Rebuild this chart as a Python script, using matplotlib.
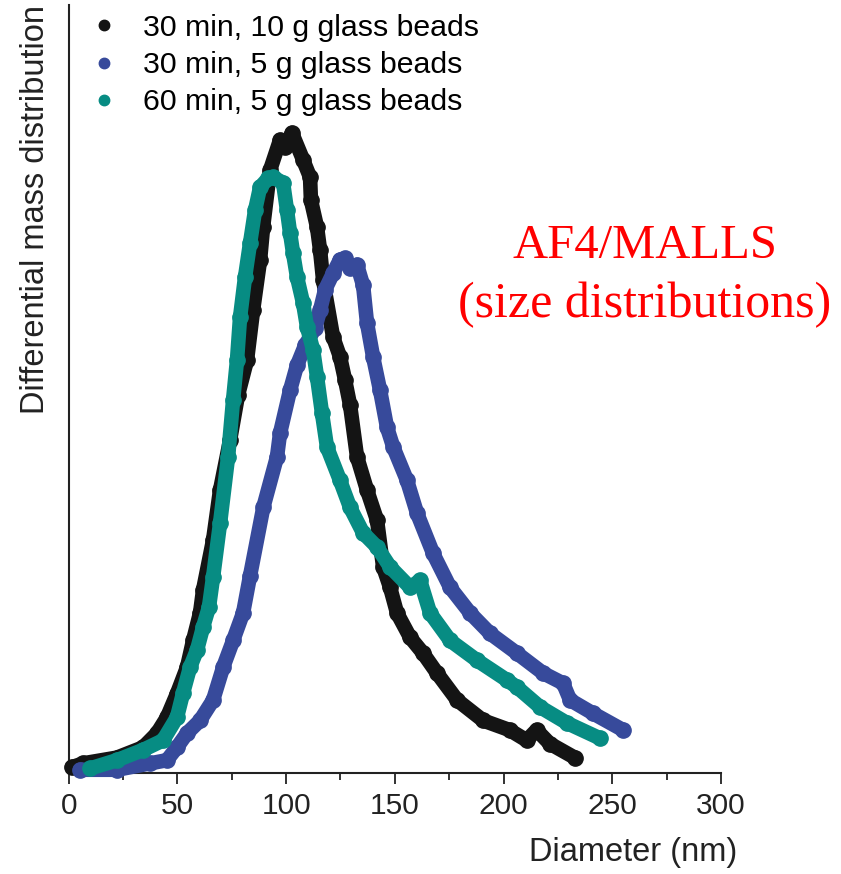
import matplotlib.pyplot as plt
from matplotlib.ticker import MultipleLocator, NullLocator

# Диаметр (нм) и дифференциальное массовое распределение (отн. ед.)
black_x = [1.5, 6.6, 22.2, 34.2, 40.6, 45.2, 49.8, 54.4, 57.2, 60.4, 61.8, 66.4,
           69.6, 74.2, 77.9, 82.0, 84.8, 88.0, 89.4, 92.6, 97.2, 99.5, 102.7,
           107.8, 111.0, 111.4, 114.2, 115.6, 117.0, 121.6, 124.8, 127.1, 129.4,
           132.6, 137.2, 141.8, 144.6, 147.8, 151.0, 157.0, 163.0, 169.4, 178.6,
           190.6, 202.8, 210.6, 215.2, 221.2, 232.7]
black_y = [0.009, 0.015, 0.024, 0.040, 0.062, 0.087, 0.124, 0.165, 0.207, 0.250,
           0.286, 0.364, 0.442, 0.520, 0.591, 0.645, 0.723, 0.801, 0.853, 0.942,
           0.989, 0.978, 1.000, 0.958, 0.931, 0.895, 0.853, 0.817, 0.770, 0.681,
           0.650, 0.614, 0.575, 0.494, 0.442, 0.395, 0.322, 0.290, 0.250, 0.212,
           0.187, 0.156, 0.114, 0.082, 0.067, 0.051, 0.067, 0.046, 0.024]

blue_x = [5.2, 22.2, 37.4, 45.2, 49.8, 54.4, 60.4, 66.4, 71.0, 75.6, 80.2, 83.4,
          89.5, 95.8, 97.2, 101.8, 105.0, 108.7, 113.3, 115.6, 117.9, 121.6,
          124.8, 127.1, 129.4, 132.6, 135.4, 137.2, 140.0, 143.2, 146.4, 149.3,
          155.6, 160.2, 167.6, 175.4, 184.6, 193.8, 206.2, 218.2, 227.4, 230.6,
          241.2, 255.0]
blue_y = [0.005, 0.005, 0.015, 0.020, 0.040, 0.062, 0.082, 0.114, 0.165, 0.207,
          0.250, 0.308, 0.415, 0.494, 0.531, 0.598, 0.637, 0.668, 0.695, 0.723,
          0.755, 0.781, 0.802, 0.804, 0.789, 0.794, 0.762, 0.703, 0.650, 0.598,
          0.540, 0.509, 0.457, 0.406, 0.343, 0.290, 0.250, 0.218, 0.187, 0.156,
          0.140, 0.114, 0.093, 0.067]

teal_x = [9.8, 22.2, 34.2, 43.4, 49.8, 52.6, 55.8, 59.0, 61.8, 64.5, 66.4, 69.6,
          73.3, 75.6, 77.4, 78.8, 81.1, 83.4, 85.7, 88.0, 91.7, 94.0, 98.6,
          100.4, 101.8, 103.2, 105.0, 107.8, 109.6, 112.4, 114.2, 116.5, 118.8,
          124.8, 129.4, 135.4, 141.8, 147.8, 157.0, 161.6, 166.2, 175.4, 187.8,
          201.6, 206.2, 216.8, 229.2, 244.4]
teal_y = [0.007, 0.020, 0.036, 0.051, 0.087, 0.125, 0.165, 0.192, 0.228, 0.259,
          0.306, 0.390, 0.494, 0.583, 0.645, 0.712, 0.775, 0.828, 0.879, 0.915,
          0.929, 0.931, 0.922, 0.879, 0.844, 0.812, 0.775, 0.734, 0.697, 0.661,
          0.619, 0.562, 0.509, 0.457, 0.415, 0.375, 0.353, 0.322, 0.290, 0.301,
          0.250, 0.207, 0.176, 0.145, 0.134, 0.103, 0.078, 0.054]

series = [
    ("30 min, 10 g glass beads", black_x, black_y, "#141414"),
    ("30 min, 5 g glass beads", blue_x, blue_y, "#374a9b"),
    ("60 min, 5 g glass beads", teal_x, teal_y, "#078c83"),
]

plt.rcParams['font.family'] = ['Liberation Sans', 'DejaVu Sans']

fig = plt.figure(figsize=(8.41, 8.74), dpi=100)
ax = fig.add_axes([0.0817, 0.1156, 0.7756, 0.8787])

for label, xs, ys, color in series:
    ax.plot(xs, ys, color=color, lw=10.5, solid_capstyle='round',
            solid_joinstyle='round', marker='o', ms=11, mec=color, mfc=color,
            clip_on=False, zorder=3)
    # пустой маркер для легенды
    ax.plot([], [], 'o', color=color, ms=7.5, label=label)

ax.set_xlim(0, 300)
ax.set_ylim(0, 1.2)
ax.xaxis.set_major_locator(MultipleLocator(50))
ax.xaxis.set_minor_locator(MultipleLocator(25))
ax.yaxis.set_major_locator(NullLocator())

for side in ('top', 'right'):
    ax.spines[side].set_visible(False)
for side in ('left', 'bottom'):
    ax.spines[side].set_linewidth(1.5)
    ax.spines[side].set_color('#222222')

ax.tick_params(axis='x', which='major', length=8, width=1.3, labelsize=21.5,
               pad=6, color='#222222', labelcolor='#222222')
ax.tick_params(axis='x', which='minor', length=5, width=1.3, color='#222222')

ax.set_xlabel("Diameter (nm)", fontsize=23.5, color='#222222')
ax.xaxis.set_label_coords(0.865, -0.083)
ax.set_ylabel("Differential mass distribution", fontsize=23.5, color='#222222',
              loc='top', labelpad=13)

ax.legend(loc='upper left', bbox_to_anchor=(0.012, 1.004), frameon=False,
          fontsize=21.8, handlelength=1.0, handletextpad=0.78, labelspacing=0.3,
          borderaxespad=0.0)

serif = ['Liberation Serif', 'DejaVu Serif']
ax.text(0.8835, 0.6706, "AF4/MALLS", transform=ax.transAxes,
        ha='center', va='baseline', color='red', fontsize=35, family=serif)
ax.text(0.8835, 0.594, "(size distributions)", transform=ax.transAxes,
        ha='center', va='baseline', color='red', fontsize=36, family=serif)

fig.savefig("out.png", dpi=100)
